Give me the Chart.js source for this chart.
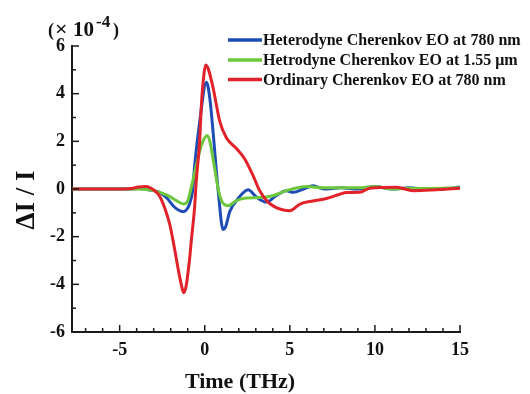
<!DOCTYPE html>
<html>
<head>
<meta charset="utf-8">
<script src="https://cdn.jsdelivr.net/npm/chart.js@4"></script>
<style>
  html, body { margin: 0; padding: 0; background: #fff; }
</style>
</head>
<body>
<canvas id="chart" width="530" height="394"></canvas>
<script>
// Time axis (x) and delta I / I values (in units of 1e-4)
const heteroTime = [-7.8, -4.5, -3.8, -3.3, -2.65, -2.2, -1.86, -1.55, -1.24, -1.0, -0.88, -0.7, -0.59, -0.3, 0.1, 0.3, 0.49, 0.78, 1.08, 1.22, 1.47, 1.96, 2.55, 3.04, 3.63, 4.21, 4.8, 5.2, 5.8, 6.37, 7, 8, 9, 10, 11, 12, 13, 14, 15];
const heteroValues = [0, 0, 0.02, -0.03, -0.14, -0.4, -0.7, -0.88, -0.95, -0.8, -0.6, 0.0, 1.0, 2.8, 4.48, 3.8, 2.4, 0.0, -1.7, -1.6, -0.95, -0.4, -0.03, -0.34, -0.55, -0.27, -0.07, -0.14, 0.0, 0.14, 0.0, 0.05, 0.0, 0.1, 0.0, 0.05, 0.0, 0.0, 0.08];

const hetroTime = [-7.8, -4.0, -3.3, -2.65, -2.1, -1.67, -1.24, -1.0, -0.78, -0.49, -0.2, 0.14, 0.3, 0.49, 0.88, 1.37, 1.86, 2.45, 3.23, 4.0, 4.8, 6.0, 7, 8, 9, 10, 11, 12, 13, 15];
const hetroValues = [0, 0, -0.03, -0.14, -0.3, -0.49, -0.63, -0.5, 0.1, 1.0, 1.82, 2.24, 2.0, 1.26, -0.28, -0.7, -0.49, -0.38, -0.36, -0.28, -0.07, 0.1, 0.05, 0.05, 0.05, 0.1, 0.0, 0.03, 0.02, 0.05];

const ordinaryTime = [-7.8, -5, -4.3, -3.9, -3.5, -3.2, -2.9, -2.65, -2.35, -2.05, -1.8, -1.55, -1.35, -1.24, -1.1, -0.9, -0.78, -0.6, -0.49, -0.3, -0.2, -0.05, 0.06, 0.2, 0.49, 0.88, 1.27, 1.86, 2.35, 2.84, 3.23, 3.72, 4.41, 5.0, 5.6, 6.37, 7.15, 7.94, 8.33, 9.11, 9.7, 11.27, 12.25, 13.6, 15];
const ordinaryValues = [0, 0, 0.02, 0.08, 0.1, 0.05, -0.1, -0.3, -0.8, -1.5, -2.4, -3.4, -4.1, -4.35, -4.1, -3.0, -2.1, -0.8, 0.4, 2.0, 3.5, 4.8, 5.2, 5.05, 4.25, 2.85, 2.15, 1.7, 1.26, 0.56, -0.07, -0.55, -0.84, -0.91, -0.63, -0.5, -0.4, -0.22, -0.15, -0.14, 0.03, 0.07, -0.07, -0.03, 0.03];

const seriesLabels = [
    'Heterodyne Cherenkov EO at 780 nm',
    'Hetrodyne Cherenkov EO at 1.55 \u03bcm',
    'Ordinary Cherenkov EO at 780 nm'
];
const seriesColors = ['#1f4db5', '#6cc73c', '#e2222a'];

const xTickValues = [];
for (let v = -7; v <= 15; v++) xTickValues.push(v);
const yTickValues = [];
for (let v = -6; v <= 6; v++) yTickValues.push(v);

const serif = '"Liberation Serif", "Times New Roman", serif';

function toPoints(xs, ys) {
    return xs.map((x, i) => ({ x: x, y: ys[i] }));
}

// Ticks pointing into the plot, longer at labelled values
const inwardTicks = {
    id: 'inwardTicks',
    afterDraw(chart) {
        const ctx = chart.ctx;
        const xs = chart.scales.x;
        const ys = chart.scales.y;
        ctx.save();
        ctx.strokeStyle = '#1a1a1a';
        ctx.lineWidth = 1.5;
        xs.ticks.forEach(t => {
            const px = xs.getPixelForValue(t.value);
            const len = t.value % 5 === 0 ? 7 : 4;
            ctx.beginPath();
            ctx.moveTo(px, xs.top);
            ctx.lineTo(px, xs.top - len);
            ctx.stroke();
        });
        ys.ticks.forEach(t => {
            const py = ys.getPixelForValue(t.value);
            const len = t.value % 2 === 0 ? 7 : 4;
            ctx.beginPath();
            ctx.moveTo(ys.right, py);
            ctx.lineTo(ys.right + len, py);
            ctx.stroke();
        });
        ctx.restore();
    }
};

// Titles, exponent note and legend drawn by hand
const annotations = {
    id: 'annotations',
    afterDraw(chart) {
        const ctx = chart.ctx;
        ctx.save();
        ctx.fillStyle = '#111';

        // y title
        ctx.save();
        ctx.translate(27, 200);
        ctx.rotate(-Math.PI / 2);
        ctx.font = 'bold 27px ' + serif;
        ctx.textAlign = 'center';
        ctx.textBaseline = 'middle';
        ctx.fillText('\u0394I / I', 0, 0);
        ctx.restore();

        // x title
        ctx.font = 'bold 22px ' + serif;
        ctx.textAlign = 'center';
        ctx.textBaseline = 'middle';
        ctx.fillText('Time (THz)', 240, 382);

        // (x10^-4)
        ctx.textAlign = 'left';
        ctx.textBaseline = 'alphabetic';
        ctx.font = 'bold 18px ' + serif;
        ctx.fillText('(', 48, 36);
        ctx.font = 'bold 22px ' + serif;
        ctx.fillText('\u00d7', 55, 36);
        ctx.font = 'bold 21px ' + serif;
        ctx.fillText('10', 73, 36);
        ctx.font = 'bold 17px ' + serif;
        ctx.fillText('-4', 96, 27);
        ctx.font = 'bold 18px ' + serif;
        ctx.fillText(')', 113, 36);

        // legend
        const rows = [40, 60, 79.5];
        ctx.font = 'bold 16px ' + serif;
        ctx.textBaseline = 'middle';
        chart.data.datasets.forEach((ds, i) => {
            ctx.strokeStyle = ds.borderColor;
            ctx.lineWidth = 3.5;
            ctx.beginPath();
            ctx.moveTo(228, rows[i]);
            ctx.lineTo(262, rows[i]);
            ctx.stroke();
            ctx.fillStyle = '#111';
            ctx.fillText(ds.label, 263, rows[i] + 1);
        });
        ctx.restore();
    }
};

const ctx = document.getElementById('chart').getContext('2d');
new Chart(ctx, {
    type: 'line',
    data: {
        datasets: [
            { label: seriesLabels[0], data: toPoints(heteroTime, heteroValues), borderColor: seriesColors[0], order: 3 },
            { label: seriesLabels[1], data: toPoints(hetroTime, hetroValues), borderColor: seriesColors[1], order: 2 },
            { label: seriesLabels[2], data: toPoints(ordinaryTime, ordinaryValues), borderColor: seriesColors[2], order: 1 }
        ]
    },
    options: {
        responsive: false,
        animation: false,
        layout: { padding: { left: 0, top: 46, right: 70, bottom: 0 } },
        elements: {
            line: { borderWidth: 3, cubicInterpolationMode: 'monotone', fill: false },
            point: { radius: 0 }
        },
        plugins: {
            legend: { display: false },
            tooltip: { enabled: false }
        },
        scales: {
            x: {
                type: 'linear',
                min: -7.8,
                max: 15,
                afterBuildTicks: s => { s.ticks = xTickValues.map(v => ({ value: v })); },
                afterFit: s => { s.height = 62; },
                grid: { display: true, drawOnChartArea: false, drawTicks: false, color: 'rgba(0,0,0,0)' },
                border: { display: true, color: '#1a1a1a', width: 2 },
                ticks: {
                    autoSkip: false,
                    maxRotation: 0,
                    padding: 8,
                    color: '#111',
                    font: { family: serif, size: 18, weight: 'bold' },
                    callback: v => (v % 5 === 0 ? String(v) : '')
                }
            },
            y: {
                min: -6,
                max: 6,
                afterBuildTicks: s => { s.ticks = yTickValues.map(v => ({ value: v })); },
                afterFit: s => { s.width = 72; },
                grid: { display: true, drawOnChartArea: false, drawTicks: false, color: 'rgba(0,0,0,0)' },
                border: { display: true, color: '#1a1a1a', width: 2 },
                ticks: {
                    autoSkip: false,
                    padding: 7,
                    color: '#111',
                    font: { family: serif, size: 18, weight: 'bold' },
                    callback: v => (v % 2 === 0 ? String(v) : '')
                }
            }
        }
    },
    plugins: [inwardTicks, annotations]
});
</script>
</body>
</html>
